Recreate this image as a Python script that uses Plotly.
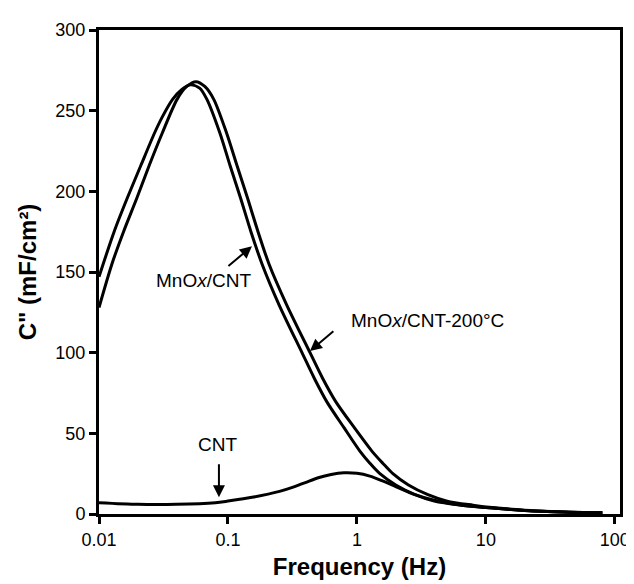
import plotly.graph_objects as go

# MnOx/CNT
freq_mnox = [0.01, 0.0131, 0.0166, 0.0211, 0.0269, 0.0309, 0.0372, 0.0437, 0.0513, 0.0603,
             0.0687, 0.0867, 0.1038, 0.125, 0.1507, 0.1837, 0.248, 0.375, 0.468, 0.585,
             0.794, 1.054, 1.26, 1.507, 2.0, 2.82, 3.98, 6.31, 10, 20, 40, 80]
cap_mnox = [147, 175, 196, 216, 236, 246, 257, 263, 266, 264,
            257, 236, 216, 196, 175, 155, 130, 100, 84, 69.5,
            53.5, 39, 31.5, 25, 18, 12, 8, 5.5, 4, 2.2, 1.2, 0.7]

# MnOx/CNT-200C
freq_mnox200 = [0.01, 0.0126, 0.0155, 0.0197, 0.0245, 0.0309, 0.0403, 0.0479, 0.0565, 0.0661,
                0.0776, 0.0977, 0.1175, 0.1416, 0.171, 0.208, 0.284, 0.433, 0.543, 0.687,
                0.955, 1.306, 1.585, 1.90, 2.51, 3.55, 5.01, 7.94, 11.2, 20, 40, 80]
cap_mnox200 = [128, 155, 175, 196, 216, 236, 257, 265, 268, 265,
               257, 236, 216, 196, 175, 155, 130, 100, 84, 69.5,
               53.5, 39, 31.5, 25, 18, 12, 8, 5.5, 4, 2.4, 1.3, 0.7]

# CNT
freq_cnt = [0.01, 0.02, 0.04, 0.08, 0.1, 0.158, 0.251, 0.316, 0.398, 0.501, 0.631, 0.794,
            1.0, 1.26, 1.58, 2.0, 2.82, 3.98, 6.31, 10, 20, 40, 80]
cap_cnt = [7, 6, 6, 7, 8, 10.5, 14, 16.5, 19.5, 22.5, 24.5, 25.5,
           25.2, 23.5, 20.5, 17, 12, 8.5, 5.5, 4, 2.2, 1.2, 0.7]

fig = go.Figure()

for fx, cy, nm in [(freq_mnox, cap_mnox, 'MnOx/CNT'),
                   (freq_mnox200, cap_mnox200, 'MnOx/CNT-200°C'),
                   (freq_cnt, cap_cnt, 'CNT')]:
    fig.add_trace(go.Scatter(
        x=fx, y=cy, mode='lines', name=nm,
        line=dict(color='black', width=3, shape='spline', smoothing=0.8),
        showlegend=False
    ))

txt_font = dict(family='Liberation Sans, Arial', size=19, color='black')

# text labels
fig.add_annotation(x=-1.186, y=144.5, text='MnO<i>x</i>/CNT', showarrow=False, font=txt_font)
fig.add_annotation(x=0.55, y=120, text='MnO<i>x</i>/CNT-200°C', showarrow=False, font=txt_font)
fig.add_annotation(x=-1.078, y=43, text='CNT', showarrow=False, font=txt_font)

# arrows
arrows = [(-0.814, 165.9, -1.008, 153),
          (-0.364, 101, -0.171, 114),
          (-1.07, 10.4, -1.07, 31.7)]
for x, y, ax, ay in arrows:
    fig.add_annotation(x=x, y=y, ax=ax, ay=ay, xref='x', yref='y', axref='x', ayref='y',
                       text='', showarrow=True, arrowhead=2, arrowsize=1.2,
                       arrowwidth=2, arrowcolor='black')

fig.update_layout(
    width=634, height=584,
    margin=dict(l=91, r=21, t=14, b=78),
    plot_bgcolor='white', paper_bgcolor='white',
    font=dict(family='Liberation Sans, Arial', size=18, color='black'),
    xaxis=dict(
        type='log', range=[-2, 2.04],
        tickvals=[0.01, 0.1, 1, 10, 100], ticktext=['0.01', '0.1', '1', '10', '100'],
        showline=True, linecolor='black', linewidth=3, mirror=True,
        ticks='outside', ticklen=7, tickwidth=2.5, tickcolor='black',
        showgrid=False, zeroline=False,
        title=dict(text='<b>Frequency (Hz)</b>', font=dict(size=24), standoff=10)
    ),
    yaxis=dict(
        range=[0, 300], tickvals=[0, 50, 100, 150, 200, 250, 300],
        showline=True, linecolor='black', linewidth=3, mirror=True,
        ticks='outside', ticklen=7, tickwidth=2.5, tickcolor='black',
        showgrid=False, zeroline=False,
        title=dict(text='<b>C" (mF/cm²)</b>', font=dict(size=24), standoff=12)
    ),
)

fig.write_html("out.html")
